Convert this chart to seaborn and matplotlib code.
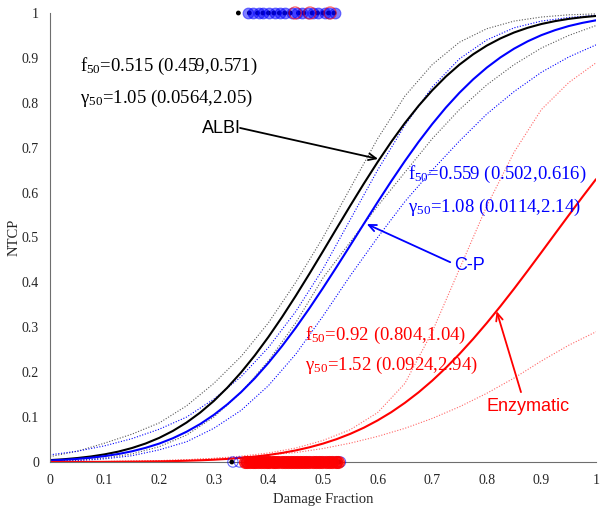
import matplotlib
matplotlib.use("Agg")
import matplotlib.pyplot as plt
import seaborn as sns

# damage fraction grid for the fitted curves
fit_grid = [0.000, 0.025, 0.050, 0.075, 0.100, 0.125, 0.150, 0.175, 0.200, 0.225, 0.250,
            0.275, 0.300, 0.325, 0.350, 0.375, 0.400, 0.425, 0.450, 0.475, 0.500,
            0.525, 0.550, 0.575, 0.600, 0.625, 0.650, 0.675, 0.700, 0.725, 0.750,
            0.775, 0.800, 0.825, 0.850, 0.875, 0.900, 0.925, 0.950, 0.975, 1.000]

# fitted NTCP curves
albi_fit = [0.0042, 0.0061, 0.0088, 0.0123, 0.0170, 0.0231, 0.0311, 0.0411, 0.0537, 0.0692, 0.0878,
            0.1100, 0.1359, 0.1658, 0.1996, 0.2372, 0.2784, 0.3228, 0.3699, 0.4190, 0.4694,
            0.5204, 0.5710, 0.6204, 0.6680, 0.7130, 0.7549, 0.7932, 0.8277, 0.8584, 0.8851,
            0.9080, 0.9274, 0.9434, 0.9566, 0.9671, 0.9755, 0.9819, 0.9869, 0.9906, 0.9934]
cp_fit = [0.0034, 0.0049, 0.0069, 0.0095, 0.0131, 0.0178, 0.0238, 0.0315, 0.0410, 0.0529, 0.0673,
          0.0845, 0.1049, 0.1286, 0.1557, 0.1864, 0.2207, 0.2582, 0.2988, 0.3421, 0.3876,
          0.4346, 0.4826, 0.5309, 0.5787, 0.6254, 0.6703, 0.7129, 0.7526, 0.7893, 0.8225,
          0.8522, 0.8784, 0.9011, 0.9206, 0.9370, 0.9507, 0.9618, 0.9709, 0.9780, 0.9837]
enz_fit = [0.0001, 0.0001, 0.0002, 0.0002, 0.0003, 0.0005, 0.0007, 0.0010, 0.0014, 0.0020, 0.0028,
           0.0038, 0.0051, 0.0069, 0.0091, 0.0120, 0.0156, 0.0202, 0.0258, 0.0327, 0.0410,
           0.0509, 0.0627, 0.0765, 0.0926, 0.1109, 0.1318, 0.1551, 0.1811, 0.2097, 0.2407,
           0.2741, 0.3096, 0.3470, 0.3859, 0.4261, 0.4670, 0.5083, 0.5494, 0.5901, 0.6298]

# confidence bands (dotted), coarser grid
band_grid = [0.00, 0.05, 0.10, 0.15, 0.20, 0.25, 0.30, 0.35, 0.40, 0.45, 0.50,
             0.55, 0.60, 0.65, 0.70, 0.75, 0.80, 0.85, 0.90, 0.95, 1.00]
albi_hi = [0.012, 0.024, 0.042, 0.062, 0.087, 0.125, 0.175, 0.235, 0.31, 0.40, 0.50,
           0.61, 0.72, 0.815, 0.885, 0.935, 0.965, 0.982, 0.991, 0.996, 0.998]
albi_lo = [0.002, 0.004, 0.009, 0.018, 0.034, 0.060, 0.100, 0.155, 0.225, 0.31, 0.41,
           0.49, 0.57, 0.645, 0.72, 0.785, 0.84, 0.885, 0.922, 0.95, 0.972]
cp_hi = [0.016, 0.024, 0.036, 0.052, 0.073, 0.100, 0.140, 0.190, 0.255, 0.335, 0.43,
         0.54, 0.65, 0.75, 0.835, 0.898, 0.94, 0.967, 0.982, 0.99, 0.995]
cp_lo = [0.001, 0.003, 0.007, 0.014, 0.027, 0.045, 0.075, 0.115, 0.170, 0.240, 0.325,
         0.415, 0.50, 0.58, 0.65, 0.715, 0.775, 0.825, 0.868, 0.902, 0.929]
enz_hi = [0.0002, 0.0005, 0.001, 0.002, 0.003, 0.005, 0.008, 0.013, 0.020, 0.031, 0.048,
          0.072, 0.11, 0.175, 0.29, 0.43, 0.57, 0.69, 0.785, 0.845, 0.889]
enz_lo = [0.0001, 0.0003, 0.001, 0.002, 0.003, 0.005, 0.008, 0.011, 0.016, 0.021, 0.030,
          0.042, 0.057, 0.075, 0.097, 0.123, 0.153, 0.187, 0.225, 0.26, 0.29]

# patient damage fractions, complication (1) / no complication (0)
albi_tox = [0.345, 0.365, 0.38, 0.39, 0.40, 0.41, 0.42, 0.43, 0.44, 0.455, 0.465, 0.48, 0.49, 0.50, 0.51, 0.52]
cp_tox = [0.363, 0.372, 0.383, 0.391, 0.401, 0.413, 0.422, 0.431, 0.443, 0.452, 0.461, 0.473,
          0.482, 0.491, 0.503, 0.511, 0.522]
enz_tox = [0.449, 0.476, 0.513]
albi_non = [0.333, 0.362, 0.368, 0.376, 0.383, 0.391, 0.398, 0.405, 0.413, 0.421, 0.428, 0.436, 0.443,
            0.451, 0.458, 0.466, 0.472, 0.48, 0.487, 0.494, 0.502, 0.51, 0.517, 0.524, 0.53]
cp_non = [0.335, 0.347, 0.36, 0.369, 0.377, 0.385, 0.394, 0.402, 0.41, 0.418, 0.427, 0.435, 0.444,
          0.452, 0.46, 0.469, 0.477, 0.486, 0.494, 0.502, 0.511, 0.519, 0.526, 0.532]
enz_non = [0.357, 0.361, 0.366, 0.371, 0.376, 0.381, 0.386, 0.392, 0.397, 0.402, 0.408, 0.413,
           0.418, 0.424, 0.43, 0.435, 0.441, 0.446, 0.452, 0.458, 0.463, 0.469, 0.475, 0.481, 0.487,
           0.493, 0.499, 0.505, 0.511, 0.517, 0.523, 0.528]

sns.set_theme(style="white")
plt.rcParams["font.family"] = ["Liberation Serif", "DejaVu Serif"]
plt.rcParams["mathtext.fontset"] = "custom"
plt.rcParams["mathtext.rm"] = "Liberation Serif"
plt.rcParams["mathtext.it"] = "Liberation Serif:italic"

fig = plt.figure(figsize=(6.05, 5.13), dpi=100)
ax = fig.add_axes([50 / 605, 51 / 513, 546 / 605, 449 / 513])

for band, col in ((albi_hi, "0.35"), (albi_lo, "0.35"), (cp_hi, "blue"), (cp_lo, "blue"),
                  (enz_hi, "#ff6666"), (enz_lo, "#ff6666")):
    sns.lineplot(x=band_grid, y=band, color=col, lw=0.8, linestyle=(0, (1, 1.5)), ax=ax)
sns.lineplot(x=fit_grid, y=albi_fit, color="black", lw=1.5, ax=ax)
sns.lineplot(x=fit_grid, y=cp_fit, color="blue", lw=1.5, ax=ax)
sns.lineplot(x=fit_grid, y=enz_fit, color="red", lw=1.5, ax=ax)

# events at NTCP = 1
sns.scatterplot(x=albi_tox, y=[1] * len(albi_tox), s=12, color="black", edgecolor="none",
                clip_on=False, zorder=5, ax=ax)
sns.scatterplot(x=cp_tox, y=[1] * len(cp_tox), s=60, color="blue", alpha=0.5,
                edgecolor="blue", linewidth=0.8, clip_on=False, zorder=6, ax=ax)
sns.scatterplot(x=enz_tox, y=[1] * len(enz_tox), s=75, facecolor="none",
                edgecolor=(1, 0, 0, 0.55), linewidth=1.0, clip_on=False, zorder=7, ax=ax)
# no events at NTCP = 0
sns.scatterplot(x=albi_non, y=[0] * len(albi_non), s=12, color="black", edgecolor="none",
                clip_on=False, zorder=5, ax=ax)
sns.scatterplot(x=cp_non, y=[0] * len(cp_non), s=55, facecolor="none",
                edgecolor=(0, 0, 1, 0.6), linewidth=0.8, clip_on=False, zorder=6, ax=ax)
sns.scatterplot(x=enz_non, y=[0] * len(enz_non), s=75, color="red", alpha=0.75,
                edgecolor="red", linewidth=0.8, clip_on=False, zorder=7, ax=ax)

ax.set_xlim(0, 1)
ax.set_ylim(0, 1)
ticks = [0, 0.1, 0.2, 0.3, 0.4, 0.5, 0.6, 0.7, 0.8, 0.9, 1]
tick_labels = ["0", "0.1", "0.2", "0.3", "0.4", "0.5", "0.6", "0.7", "0.8", "0.9", "1"]
ax.set_xticks(ticks, tick_labels)
ax.set_yticks(ticks, tick_labels)
ax.set_xlabel("Damage Fraction", fontsize=10.5, color="#262626", labelpad=4)
ax.set_ylabel("NTCP", fontsize=10.5, color="#262626", labelpad=1)
sns.despine(ax=ax)
for side in ("left", "bottom"):
    ax.spines[side].set_color("#6e6e6e")
    ax.spines[side].set_linewidth(0.8)
ax.tick_params(axis="x", direction="in", length=4, width=0.8, color="#6e6e6e",
               labelsize=10, labelcolor="#262626", pad=9)
ax.tick_params(axis="y", direction="out", length=4, width=0.8, color="#6e6e6e",
               labelsize=10, labelcolor="#262626", pad=4)

# fitted parameter annotations
ax.text(0.055, 0.8715, r"f$_{\mathrm{50}}$=0.515 (0.459,0.571)", fontsize=13.5, color="black", va="baseline")
ax.text(0.055, 0.799, r"γ$_{\mathrm{50}}$=1.05 (0.0564,2.05)", fontsize=13.5, color="black", va="baseline")
ax.text(0.656, 0.6296, r"f$_{\mathrm{50}}$=0.559 (0.502,0.616)", fontsize=13.5, color="blue", va="baseline")
ax.text(0.656, 0.5575, r"γ$_{\mathrm{50}}$=1.08 (0.0114,2.14)", fontsize=13.5, color="blue", va="baseline")
ax.text(0.467, 0.2717, r"f$_{\mathrm{50}}$=0.92 (0.804,1.04)", fontsize=13.5, color="red", va="baseline")
ax.text(0.467, 0.205, r"γ$_{\mathrm{50}}$=1.52 (0.0924,2.94)", fontsize=13.5, color="red", va="baseline")

sans = ["Liberation Sans", "DejaVu Sans"]
ax.text(0.278, 0.743, "ALBI", fontsize=13, family=sans, color="black", va="center")
ax.text(0.74, 0.438, "C-P", fontsize=13, family=sans, color="blue", va="center")
ax.text(0.80, 0.1247, "Enzymatic", fontsize=13, family=sans, color="red", va="center")
arrow = dict(arrowstyle="->,head_length=0.45,head_width=0.2", lw=1.3, shrinkA=0, shrinkB=0)
ax.annotate("", xy=(0.601, 0.675), xytext=(0.348, 0.744), arrowprops=dict(arrow, color="black"))
ax.annotate("", xy=(0.580, 0.530), xytext=(0.733, 0.445), arrowprops=dict(arrow, color="blue"))
ax.annotate("", xy=(0.818, 0.336), xytext=(0.8626, 0.1556), arrowprops=dict(arrow, color="red"))

fig.savefig("out.png", dpi=100)
